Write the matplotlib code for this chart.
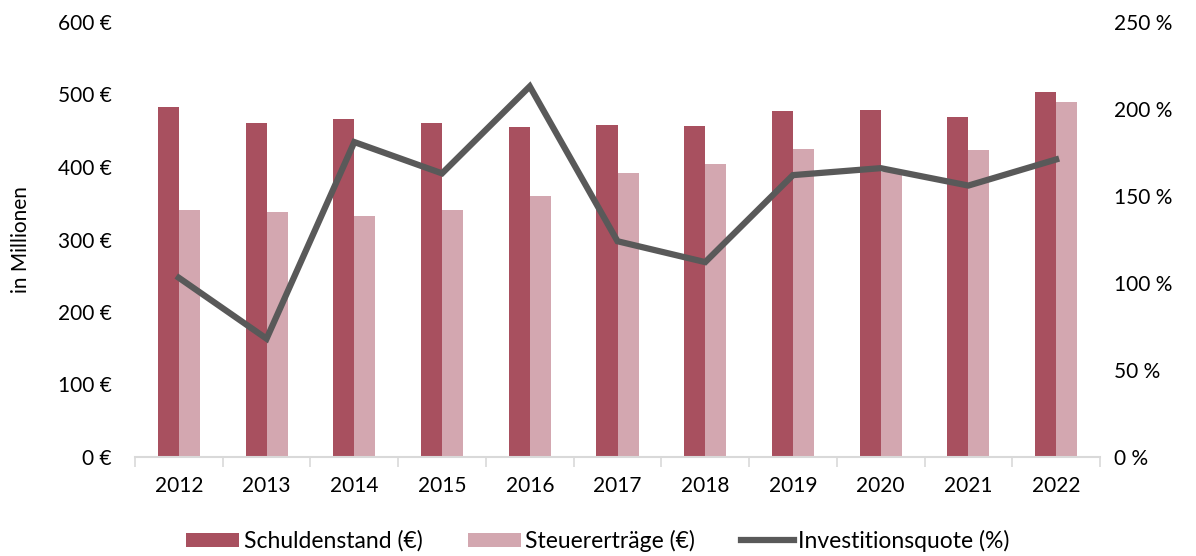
import matplotlib
matplotlib.use("Agg")
import matplotlib.pyplot as plt
import numpy as np
from matplotlib.ticker import FuncFormatter

# -----------------------------------------------------------------------------
# Data
# -----------------------------------------------------------------------------
years = ["2012", "2013", "2014", "2015", "2016", "2017",
         "2018", "2019", "2020", "2021", "2022"]
schuldenstand = [483, 461, 466, 461, 455, 458, 457, 477, 479, 469, 503]
steuerertraege = [341, 338, 332, 341, 360, 392, 404, 425, 393, 423, 490]
investitionsquote = [103, 68, 181, 163, 213, 124, 112, 162, 166, 156, 171]

# -----------------------------------------------------------------------------
# Plot
# -----------------------------------------------------------------------------
plt.rcParams['font.family'] = ['Lato', 'DejaVu Sans']
plt.rcParams['font.size'] = 15

dark = "#A8505F"
light = "#D3A7B0"
grey = "#595959"

fig = plt.figure(figsize=(11.96, 5.56), dpi=100)
ax = fig.add_axes([135 / 1196, 1 - 457 / 556, 965 / 1196, 435 / 556])
ax2 = ax.twinx()

x = np.arange(len(years))
w = 0.24
ax.bar(x - w / 2, schuldenstand, width=w, color=dark, label="Schuldenstand (€)")
ax.bar(x + w / 2, steuerertraege, width=w, color=light, label="Steuererträge (€)")
ax2.plot(x, investitionsquote, color=grey, linewidth=4.5,
         label="Investitionsquote (%)", solid_joinstyle="miter")

ax.set_xlim(-0.5, len(years) - 0.5)
ax.set_ylim(0, 600)
ax2.set_ylim(0, 250)
ax.set_yticks(np.arange(0, 601, 100))
ax2.set_yticks(np.arange(0, 251, 50))
ax.yaxis.set_major_formatter(FuncFormatter(lambda v, p: "%d €" % v))
ax2.yaxis.set_major_formatter(FuncFormatter(lambda v, p: "%d %%" % v))

ax.set_xticks(x)
ax.set_xticklabels(years)
ax.set_xticks(np.arange(-0.5, len(years), 1), minor=True)
ax.tick_params(axis="x", which="major", length=0, pad=14)
ax.tick_params(axis="x", which="minor", length=7, width=1.2, color="#d9d9d9")
ax.tick_params(axis="y", length=0, pad=17)
ax2.tick_params(axis="y", length=0, pad=10)

for a in (ax, ax2):
    for s in ("top", "left", "right"):
        a.spines[s].set_visible(False)
ax2.spines["bottom"].set_visible(False)
ax.spines["bottom"].set_color("#d9d9d9")
ax.spines["bottom"].set_linewidth(1.5)

ax.set_ylabel("in Millionen", labelpad=19)

h1, l1 = ax.get_legend_handles_labels()
h2, l2 = ax2.get_legend_handles_labels()
fig.legend(h1 + h2, l1 + l2, loc="lower center", bbox_to_anchor=(0.5, -0.03),
           ncol=3, frameon=False, fontsize=16.5, handlelength=2.3,
           handleheight=0.57, handletextpad=0.2, columnspacing=2.0)

fig.savefig("out.png", dpi=100)
